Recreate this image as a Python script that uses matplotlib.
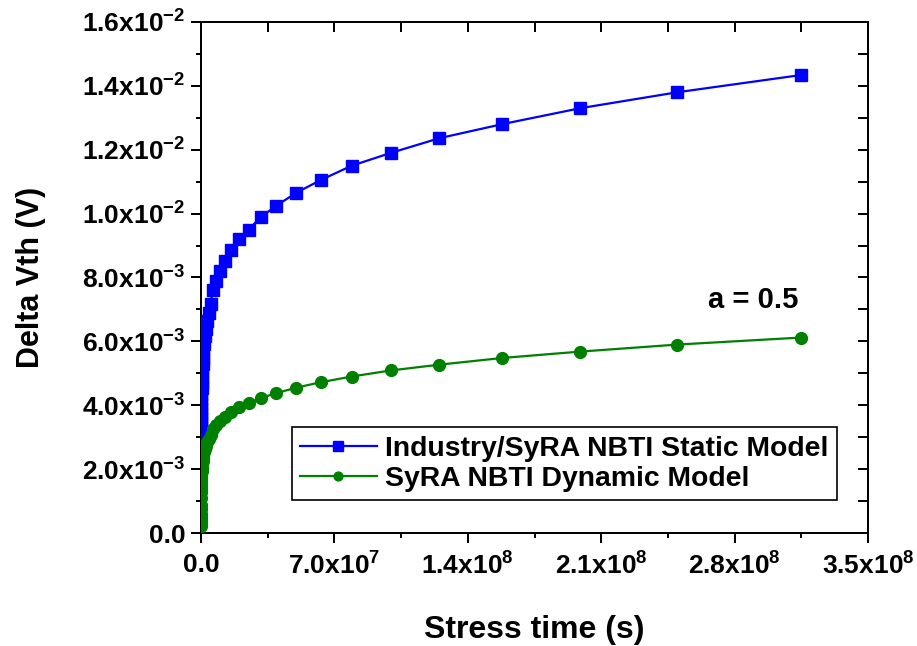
import numpy as np
import matplotlib
matplotlib.use("Agg")
import matplotlib.pyplot as plt
from matplotlib.ticker import MultipleLocator, FuncFormatter

# Stress times (s), ten points per decade down from ten years
stress_time = [3.15e8, 2.50e8, 1.99e8, 1.58e8, 1.25e8, 9.96e7, 7.91e7, 6.28e7,
               4.99e7, 3.96e7, 3.15e7, 2.50e7, 1.99e7, 1.58e7, 1.25e7, 9.96e6,
               7.91e6, 6.28e6, 4.99e6, 3.96e6, 3.15e6, 2.50e6, 1.99e6, 1.58e6,
               1.25e6, 9.96e5, 7.91e5, 6.28e5, 4.99e5, 3.96e5, 3.15e5, 2.50e5,
               1.99e5, 1.58e5, 1.25e5, 9.96e4, 7.91e4, 6.28e4, 4.99e4, 3.96e4,
               3.15e4, 2.50e4]
# Early-time samples of the dynamic model
early_time = [1.0e4, 3.15e3, 1.0e3, 3.15e2, 1.0e2, 31.5, 10.0, 3.15, 1.0]

# Delta Vth (V), static model
static_vth = [0.01434, 0.0138, 0.0133, 0.0128, 0.01236, 0.0119, 0.0115, 0.01105,
              0.01065, 0.01025, 0.0099, 0.0095, 0.0092, 0.00885, 0.00852, 0.0082,
              0.0079, 0.0076, 0.00718, 0.0069, 0.00665, 0.0064, 0.00616, 0.00592,
              0.0057, 0.00549, 0.00528, 0.00508, 0.00489, 0.0047, 0.00453, 0.00436,
              0.0042, 0.00404, 0.00389, 0.00374, 0.0036, 0.00346, 0.00333, 0.00321,
              0.00309, 0.00297]
# Delta Vth (V), dynamic model
dynamic_vth = [0.00612, 0.0059, 0.00568, 0.00548, 0.00527, 0.00509, 0.0049, 0.00472,
               0.00455, 0.00438, 0.00423, 0.00406, 0.00393, 0.00378, 0.00364, 0.0035,
               0.00337, 0.00325, 0.00307, 0.00295, 0.00284, 0.00273, 0.00263, 0.00253,
               0.00243, 0.00234, 0.00225, 0.00217, 0.00209, 0.00201, 0.00193, 0.00186,
               0.00179, 0.00173, 0.00166, 0.0016, 0.00154, 0.00148, 0.00142, 0.00137,
               0.00132, 0.00127]
dynamic_vth_early = [0.00109, 0.00089, 0.00074, 0.00061, 0.0005, 0.00042,
                     0.00034, 0.00028, 0.00023]

labels = ["Industry/SyRA NBTI Static Model", "SyRA NBTI Dynamic Model"]
annotation = "a = 0.5"

plt.rcParams.update({
    "font.family": ["Liberation Sans", "DejaVu Sans"],
    "font.weight": "bold",
    "mathtext.fontset": "custom",
    "mathtext.rm": "Liberation Sans:bold",
    "mathtext.it": "Liberation Sans:bold",
    "mathtext.bf": "Liberation Sans:bold",
    "mathtext.default": "rm",
})

fig = plt.figure(figsize=(9.17, 6.46), dpi=100)
ax = fig.add_axes([0.2192, 0.1749, 0.7274, 0.7911])

blue = "#0000ff"
green = "#008000"

ax.plot(stress_time, static_vth, color=blue, lw=1.6, marker="s", ms=9,
        mec=blue, mfc=blue, label=labels[0], zorder=3)
ax.plot(stress_time + early_time, dynamic_vth + dynamic_vth_early, color=green,
        lw=1.6, marker="o", ms=8.5, mec=green, mfc=green, label=labels[1], zorder=4)

ax.set_xlim(0, 3.5e8)
ax.set_ylim(0, 0.016)


def sci_label(v, pos):
    if abs(v) < 1e-15:
        return "0.0"
    exp = int(np.floor(np.log10(abs(v)) + 1e-9))
    mant = v / 10 ** exp
    return rf"${mant:.1f}x10^{{{exp}}}$"


ax.xaxis.set_major_locator(MultipleLocator(7e7))
ax.xaxis.set_minor_locator(MultipleLocator(3.5e7))
ax.yaxis.set_major_locator(MultipleLocator(0.002))
ax.yaxis.set_minor_locator(MultipleLocator(0.001))
ax.xaxis.set_major_formatter(FuncFormatter(sci_label))
ax.yaxis.set_major_formatter(FuncFormatter(sci_label))

ax.tick_params(which="major", direction="out", length=7.2, width=1.44,
               labelsize=19, pad=4)
ax.tick_params(which="minor", direction="out", length=3.6, width=1.44)
ax.tick_params(axis="x", which="major", pad=7)
for lab in ax.get_xticklabels() + ax.get_yticklabels():
    lab.set_fontweight("bold")

for sp in ax.spines.values():
    sp.set_linewidth(1.44)

# Mirrored axes on top and right with inward ticks
top = ax.secondary_xaxis("top")
top.xaxis.set_major_locator(MultipleLocator(7e7))
top.xaxis.set_minor_locator(MultipleLocator(3.5e7))
top.tick_params(which="both", direction="in", length=7.2, width=1.44,
                labeltop=False)
right = ax.secondary_yaxis("right")
right.yaxis.set_major_locator(MultipleLocator(0.002))
right.yaxis.set_minor_locator(MultipleLocator(0.001))
right.tick_params(which="both", direction="in", length=7.2, width=1.44,
                  labelright=False)
for sec in (top, right):
    for sp in sec.spines.values():
        sp.set_linewidth(1.44)

ax.set_xlabel("Stress time (s)", fontsize=23, fontweight="bold", labelpad=25)
ax.set_ylabel("Delta Vth (V)", fontsize=22, fontweight="bold", labelpad=26)

ax.text(2.9e8, 0.0073, annotation, fontsize=21, fontweight="bold",
        ha="center", va="center")

leg = ax.legend(loc="lower left", bbox_to_anchor=(0.136, 0.064),
                borderaxespad=0, fontsize=20.4, frameon=True, fancybox=False,
                edgecolor="black", framealpha=1, handlelength=2.7,
                handletextpad=0.3, borderpad=0.3, labelspacing=0.15,
                markerscale=0.75)
leg.get_frame().set_linewidth(1.2)
for t in leg.get_texts():
    t.set_fontweight("bold")

fig.savefig("out.png", dpi=100)
